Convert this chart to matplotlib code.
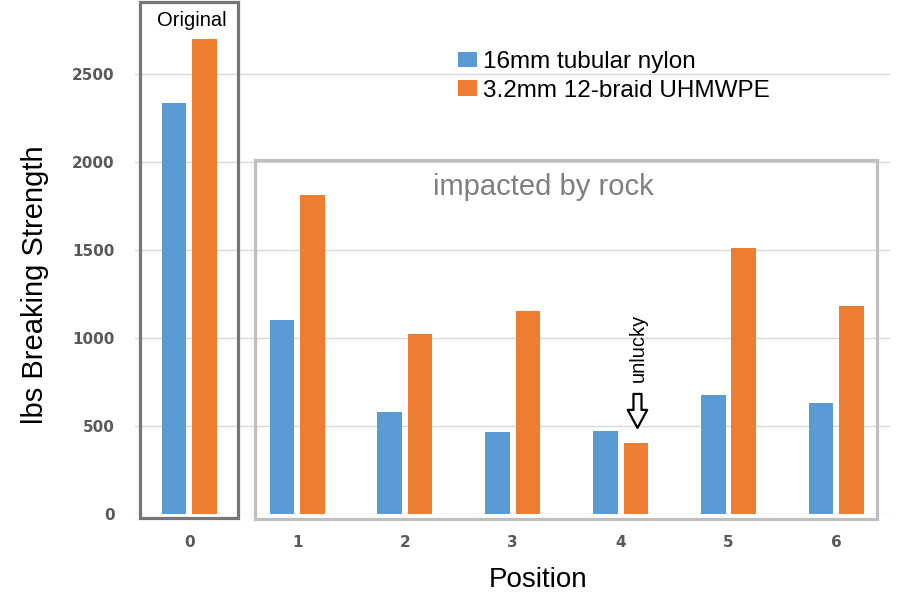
import matplotlib
matplotlib.use("Agg")
import matplotlib.pyplot as plt
from matplotlib.patches import Rectangle, Patch
import numpy as np

positions = [0, 1, 2, 3, 4, 5, 6]
nylon = [2335, 1100, 580, 465, 470, 675, 630]
uhmwpe = [2700, 1815, 1025, 1155, 405, 1510, 1180]
series_labels = ["16mm tubular nylon", "3.2mm 12-braid UHMWPE"]
yticks = [0, 500, 1000, 1500, 2000, 2500]

BLUE = "#5b9bd5"
ORANGE = "#ed7d31"
SANS = "Liberation Sans"

fig = plt.figure(figsize=(9, 6.04), dpi=100)
ax = fig.add_axes([135.3 / 900, 1 - 514 / 604, 755 / 900, (514 - 3) / 604])

x = np.array(positions, dtype=float)
w = 0.227
off = 0.141
ax.bar(x - off, nylon, w, color=BLUE, zorder=3)
ax.bar(x + off, uhmwpe, w, color=ORANGE, zorder=3)

ax.set_xlim(-0.5, 6.5)
ax.set_ylim(0, 2903)
ax.set_yticks(yticks)
ax.set_xticks(positions)
ax.grid(axis="y", color="#d9d9d9", linewidth=1.0, zorder=0)
ax.set_axisbelow(True)
for s in ax.spines.values():
    s.set_visible(False)
ax.tick_params(length=0, pad=15, labelcolor="#595959")
for lab in ax.get_xticklabels() + ax.get_yticklabels():
    lab.set_fontfamily("DejaVu Sans")
    lab.set_fontweight("bold")
    lab.set_fontsize(11)

# annotation boxes
ax.add_patch(Rectangle((-0.46, -23), 0.912, 2932, fill=False, edgecolor="#767676",
                       linewidth=2.3, clip_on=False, zorder=4))
ax.add_patch(Rectangle((0.614, -31), 5.765, 2040, fill=False, edgecolor="#bfbfbf",
                       linewidth=2.3, clip_on=False, zorder=4))

ax.text(0.02, 2801, "Original", ha="center", va="center", fontsize=14.5,
        family=SANS, color="black", zorder=5)
ax.text(3.28, 1815, "impacted by rock", ha="center", va="baseline", fontsize=21,
        family=SANS, color="#7f7f7f", zorder=5)
ax.text(4.16, 943, "unlucky", ha="center", va="center", rotation=90, fontsize=14.5,
        family=SANS, color="black", zorder=5)
ax.annotate("", xy=(4 + off + 0.015, 489), xytext=(4 + off + 0.015, 682),
            arrowprops=dict(arrowstyle="simple,head_length=1.3,head_width=1.4,tail_width=0.58",
                            facecolor="white", edgecolor="black", linewidth=1.6,
                            mutation_scale=10, shrinkA=0, shrinkB=0), zorder=5)

handles = [Patch(facecolor=BLUE, edgecolor="none"), Patch(facecolor=ORANGE, edgecolor="none")]
fig.legend(handles, series_labels, loc="upper left",
           bbox_to_anchor=(458 / 900, 1 - 51 / 604), frameon=False,
           prop=dict(family=SANS, size=17.5), handlelength=0.78, handleheight=0.62,
           handletextpad=0.25, labelspacing=0.28, borderpad=0, borderaxespad=0)

fig.text(35 / 900, 1 - 285 / 604, "lbs Breaking Strength", rotation=90, ha="center",
         va="center", fontsize=21, family=SANS, color="black")
fig.text(538 / 900, 1 - 580 / 604, "Position", ha="center", va="center",
         fontsize=20, family=SANS, color="black")

fig.savefig("out.png", dpi=100)
